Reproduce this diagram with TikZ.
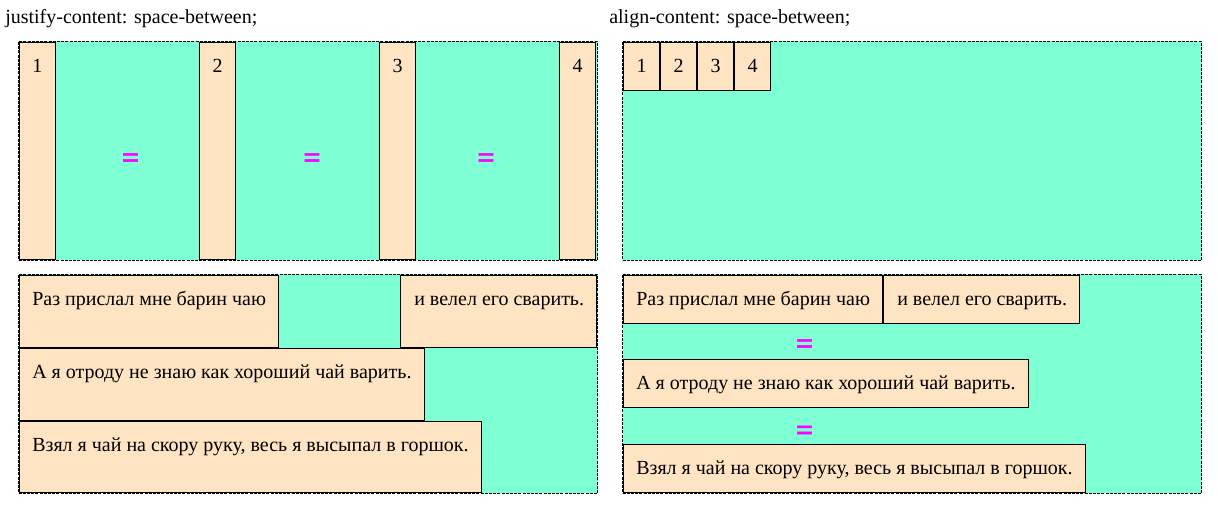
\documentclass[tikz,border=0pt]{standalone}
\usepackage{fontspec}
\setmainfont{Liberation Serif}
\newfontfamily\eqfont[FakeBold=1.5]{Liberation Serif Bold}
\usetikzlibrary{fit}
\definecolor{aqua}{HTML}{7FFFD4}
\definecolor{wheat}{HTML}{FFE4C4}
\definecolor{eqmag}{HTML}{FF00FF}
\tikzset{
  box/.style={fill=aqua, draw=black, line width=0.75pt, dash pattern=on 2.25pt off 0.9pt},
  item/.style={fill=wheat, draw=black, line width=0.75pt, inner sep=0pt},
  txt/.style={inner sep=0pt, anchor=base west, font=\fontsize{15}{17}\selectfont},
  num/.style={inner sep=0pt, anchor=base, font=\fontsize{15}{17}\selectfont},
  eq/.style={inner sep=0pt, text=eqmag, font=\fontsize{23}{25}\selectfont\eqfont},
}
\begin{document}
\begin{tikzpicture}[x=0.75pt,y=-0.75pt]
\useasboundingbox (0,0) rectangle (1218,509);

% headings
\node[txt] (h1) at (5,24) {justify-content: space-between;};
\node[txt] (h2) at (609,24) {align-content: space-between;};

% containers
\node[box, inner sep=0pt, fit={(18.5,41.5) (597.5,260.5)}] (c1) {};
\node[box, inner sep=0pt, fit={(622.5,41.5) (1201.5,260.5)}] (c2) {};
\node[box, inner sep=0pt, fit={(18.5,274.5) (597.5,493.5)}] (c3) {};
\node[box, inner sep=0pt, fit={(622.5,274.5) (1201.5,493.5)}] (c4) {};

% justify-content: one row of tall items
\node[item, fit={(19.5,42.5) (55.5,259.5)}] (a1) {};
\node[item, fit={(199.5,42.5) (235.5,259.5)}] (a2) {};
\node[item, fit={(379.5,42.5) (415.5,259.5)}] (a3) {};
\node[item, fit={(559.5,42.5) (595.5,259.5)}] (a4) {};
\node[num] at (a1.north |- 0,73) {1};
\node[num] at (a2.north |- 0,73) {2};
\node[num] at (a3.north |- 0,73) {3};
\node[num] at (a4.north |- 0,73) {4};
\node[eq] (e1) at (130.5,160.5) {=};
\node[eq] (e2) at (312,160.5) {=};
\node[eq] (e3) at (486,160.5) {=};

% align-content: items packed at the top
\node[item, fit={(623.5,42.5) (659.5,90.5)}] (b1) {};
\node[item, fit={(660.5,42.5) (696.5,90.5)}] (b2) {};
\node[item, fit={(697.5,42.5) (733.5,90.5)}] (b3) {};
\node[item, fit={(734.5,42.5) (770.5,90.5)}] (b4) {};
\node[num] at (b1.north |- 0,73) {1};
\node[num] at (b2.north |- 0,73) {2};
\node[num] at (b3.north |- 0,73) {3};
\node[num] at (b4.north |- 0,73) {4};

% justify-content: wrapped lines of text
\node[item, fit={(19.5,275.5) (278.5,347.5)}] (p1) {};
\node[item, fit={(400.5,275.5) (596.5,347.5)}] (p2) {};
\node[item, fit={(19.5,348.5) (424.5,420.5)}] (p3) {};
\node[item, fit={(19.5,421.5) (481.5,492.5)}] (p4) {};
\node[txt] at (32,305.5) {Раз прислал мне барин чаю};
\node[txt] at (414,305.5) {и велел его сварить.};
\node[txt] at (32,378.5) {А я отроду не знаю как хороший чай варить.};
\node[txt] at (32,451.5) {Взял я чай на скору руку, весь я высыпал в горшок.};

% align-content: wrapped lines with spacing
\node[item, fit={(623.5,275.5) (882.5,323.5)}] (q1) {};
\node[item, fit={(883.5,275.5) (1079.5,323.5)}] (q2) {};
\node[item, fit={(623.5,359.5) (1028.5,407.5)}] (q3) {};
\node[item, fit={(623.5,444.5) (1085.5,492.5)}] (q4) {};
\node[txt] at (636,305.5) {Раз прислал мне барин чаю};
\node[txt] at (897,305.5) {и велел его сварить.};
\node[txt] at (636,389.5) {А я отроду не знаю как хороший чай варить.};
\node[txt] at (636,474.5) {Взял я чай на скору руку, весь я высыпал в горшок.};
\node[eq] (e4) at (804.5,346.5) {=};
\node[eq] (e5) at (804.5,433) {=};
\end{tikzpicture}
\end{document}
